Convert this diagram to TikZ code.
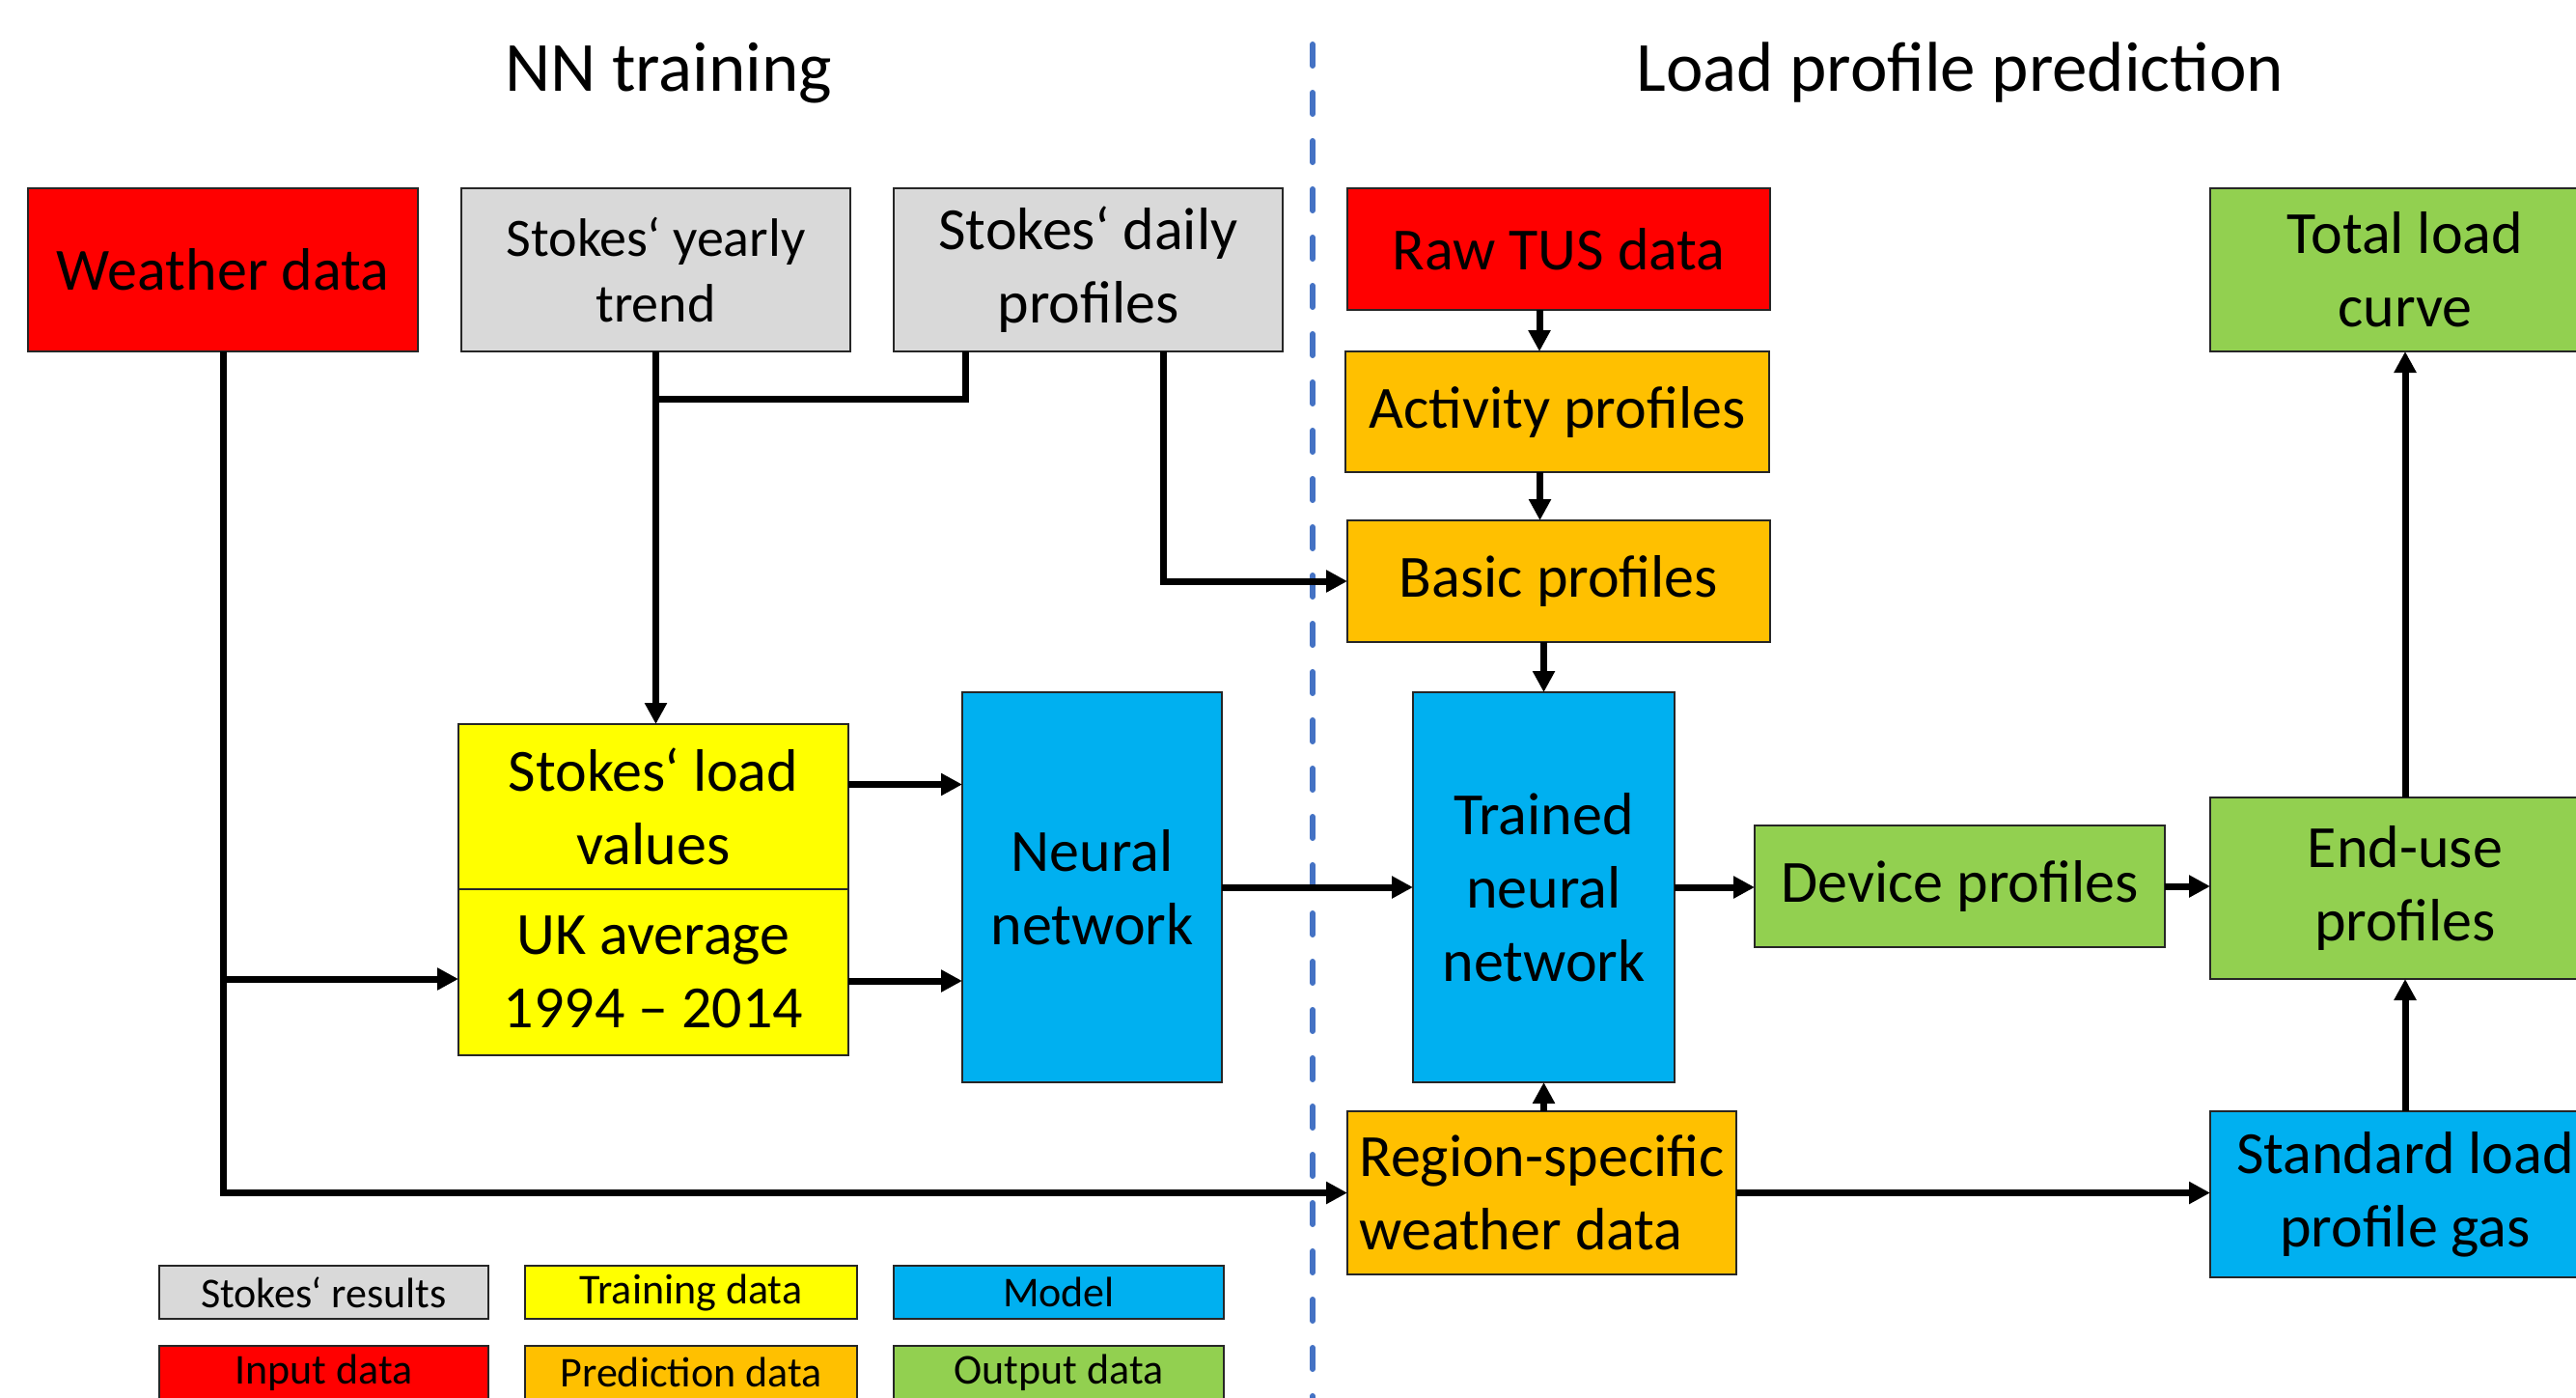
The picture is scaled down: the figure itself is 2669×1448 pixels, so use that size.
\documentclass[tikz,border=0pt]{standalone}
\usepackage{fontspec}
\setmainfont{Carlito}
\usetikzlibrary{arrows.meta,positioning}

\definecolor{cgray}{HTML}{D9D9D9}
\definecolor{cred}{HTML}{FF0000}
\definecolor{cyellow}{HTML}{FFFF00}
\definecolor{corange}{HTML}{FFC000}
\definecolor{cblue}{HTML}{00B0F0}
\definecolor{cgreen}{HTML}{92D050}
\definecolor{cdivider}{HTML}{4472C4}

\tikzset{
  box/.style={draw=black!85, line width=2.5pt, inner sep=4pt, outer sep=0pt,
    align=center, text=black, font=\fontsize{62}{76}\selectfont},
  legendbox/.style={box, minimum height=55pt, font=\fontsize{44}{50}\selectfont},
  conn/.style={line width=7pt, black, -{Triangle[length=22pt,width=22pt]}},
  wire/.style={line width=7pt, black},
  divider/.style={line width=6pt, cdivider, line cap=round, dash pattern=on 22pt off 28pt},
  heading/.style={anchor=base, font=\fontsize{73}{80}\selectfont, text=black},
}

\begin{document}
\begin{tikzpicture}[x=1pt, y=-1pt]
\useasboundingbox (0,0) rectangle (2669,1448);
\clip (0,0) rectangle (2669,1448);
\fill[white] (0,0) rectangle (2669,1448);

% section titles and divider
\node[heading] (ttrain) at (693,94) {NN training};
\node[heading] (tpred) at (2031,94) {Load profile prediction};
\draw[divider] (1360,46) -- (1360,1460);

% training side
\node[box, fill=cred, minimum width=404pt, minimum height=169pt] (weather) at (231,279.5) {Weather data};
\node[box, fill=cgray, minimum width=403pt, minimum height=169pt, font=\fontsize{56}{68}\selectfont] (yearly) at (679.5,279.5) {Stokes‘ yearly\\trend};
\node[box, fill=cgray, minimum width=403pt, minimum height=169pt] (daily) at (1127.5,279.5) {Stokes‘ daily\\profiles};
\node[box, fill=cyellow, minimum width=404pt, minimum height=171pt] (stokesload) at (677,835.5) {Stokes‘ load\\values};
\node[box, fill=cyellow, minimum width=404pt, minimum height=172pt] (ukavg) at (677,1007) {UK average\\1994 – 2014};
\node[box, fill=cblue, minimum width=269pt, minimum height=404pt] (nn) at (1131.5,919) {Neural\\network};

% prediction side
\node[box, fill=cred, minimum width=438pt, minimum height=126pt] (raw) at (1615,258) {Raw TUS data};
\node[box, fill=corange, minimum width=439pt, minimum height=125pt] (activity) at (1613.5,426.5) {Activity profiles};
\node[box, fill=corange, minimum width=438pt, minimum height=126pt] (basic) at (1615,602) {Basic profiles};
\node[box, fill=cblue, minimum width=271pt, minimum height=404pt] (trained) at (1599.5,919) {Trained\\neural\\network};
\node[box, fill=corange, minimum width=403pt, minimum height=169pt, align=left, inner sep=2pt] (region) at (1597.5,1235.5) {Region-specific\\weather data};
\node[box, fill=cgreen, minimum width=425pt, minimum height=126pt] (device) at (2030.5,918) {Device profiles};
\node[box, fill=cgreen, minimum width=404pt, minimum height=169pt] (total) at (2492,279.5) {Total load\\curve};
\node[box, fill=cgreen, minimum width=404pt, minimum height=188pt] (enduse) at (2492,920) {End-use\\profiles};
\node[box, fill=cblue, minimum width=404pt, minimum height=172pt] (standard) at (2492,1237) {Standard load\\profile gas};

% legend
\node[legendbox, fill=cgray, minimum width=341pt] (lgstokes) at (335.5,1338.5) {Stokes‘ results};
\node[legendbox, fill=cyellow, minimum width=344pt] (lgtrain) at (716,1338.5) {Training data};
\node[legendbox, fill=cblue, minimum width=342pt] (lgmodel) at (1097,1338.5) {Model};
\node[legendbox, fill=cred, minimum width=341pt] (lginput) at (335.5,1421.5) {Input data};
\node[legendbox, fill=corange, minimum width=344pt] (lgpred) at (716,1421.5) {Prediction data};
\node[legendbox, fill=cgreen, minimum width=342pt] (lgout) at (1097,1421.5) {Output data};

% helper points on box edges
\coordinate (ukin) at ([yshift=-7pt]ukavg.west);
\coordinate (slout) at ([yshift=23pt]stokesload.east);
\coordinate (ukout) at ([yshift=-9pt]ukavg.east);
\coordinate (yj) at ([yshift=-49pt]yearly.south);
\coordinate (dj) at ([xshift=74pt]daily.south west);
\coordinate (dd) at ([xshift=-124pt]daily.south east);
\coordinate (rawout) at ([xshift=-20pt]raw.south);
\coordinate (actout) at ([xshift=-18pt]activity.south);

% connectors: training side
\draw[conn] (weather.south) |- (region.west);
\draw[conn] (weather.south |- ukin) -- (ukin);
\draw[conn] (yearly.south) -- (yearly.south |- stokesload.north);
\draw[wire] (dj) |- (yj);
\draw[conn] (dd) |- (basic.west);
\draw[conn] (slout) -- (slout -| nn.west);
\draw[conn] (ukout) -- (ukout -| nn.west);
\draw[conn] (nn.east) -- (nn.east -| trained.west);

% connectors: prediction side
\draw[conn] (rawout) -- (rawout |- activity.north);
\draw[conn] (actout) -- (actout |- basic.north);
\draw[conn] (basic.south -| trained.north) -- (trained.north);
\draw[conn] (region.north -| trained.south) -- (trained.south);
\draw[conn] (trained.east) -- (trained.east -| device.west);
\draw[conn] (device.east) -- (device.east -| enduse.west);
\draw[conn] (region.east) -- (region.east -| standard.west);
\draw[conn] (standard.north) -- (enduse.south);
\draw[conn] (enduse.north) -- (total.south);
\end{tikzpicture}
\end{document}
